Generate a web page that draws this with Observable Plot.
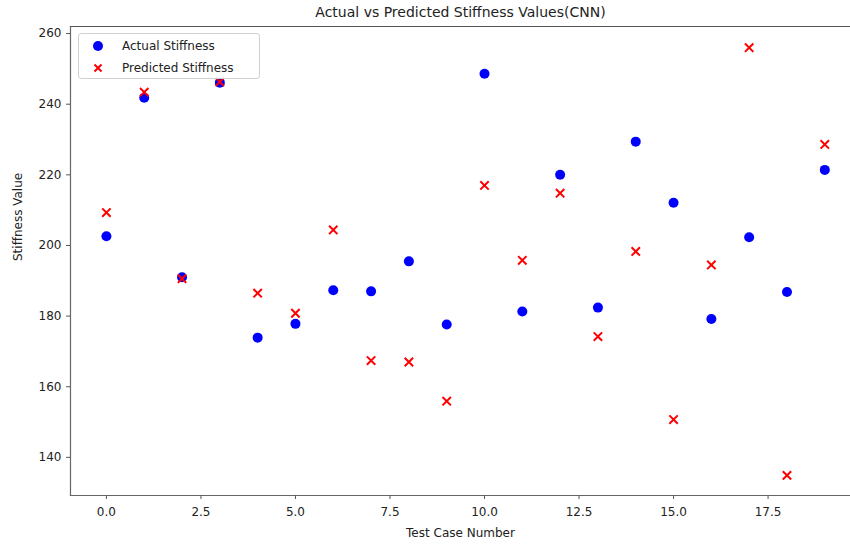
<!DOCTYPE html>
<html><head><meta charset="utf-8">
<script src="https://cdn.jsdelivr.net/npm/d3@7"></script>
<script src="https://cdn.jsdelivr.net/npm/@observablehq/plot@0.6"></script>
<style>
body{margin:0;background:#fff;}
#wrap{position:relative;width:850px;height:544px;font-family:"DejaVu Sans",sans-serif;}
.legend{position:absolute;left:78px;top:33px;width:182px;height:46px;border:1px solid #d0d0d0;border-radius:3px;background:rgba(255,255,255,0.8);box-sizing:border-box;font-size:12px;color:#222;}
.legend .row{position:absolute;left:0;height:16px;line-height:16px;white-space:nowrap;}
.legend svg{position:absolute;left:11px;top:0;}
.legend span{position:absolute;left:43px;top:0;}
</style>
</head><body>
<div id="wrap"></div>
<script>
const testCase = [0,1,2,3,4,5,6,7,8,9,10,11,12,13,14,15,16,17,18,19];
const actual = [202.6,241.8,191.0,246.1,173.9,177.8,187.3,187.0,195.5,177.6,248.6,181.3,220.0,182.4,229.4,212.1,179.2,202.3,186.8,221.4];
const predicted = [209.3,243.4,190.6,246.3,186.5,180.8,204.4,167.4,167.0,155.9,217.0,195.8,214.8,174.2,198.3,150.7,194.5,256.0,134.9,228.6];
const xTicks = [0,2.5,5,7.5,10,12.5,15,17.5];
const yTicks = [140,160,180,200,220,240,260];
const title = "Actual vs Predicted Stiffness Values(CNN)";
const xLabel = "Test Case Number";
const yLabel = "Stiffness Value";
const seriesNames = ["Actual Stiffness","Predicted Stiffness"];

const rows = testCase.map((c,i)=>({c, actual:actual[i], predicted:predicted[i]}));

const chart = Plot.plot({
  width:850, height:544,
  marginLeft:70, marginRight:0, marginTop:26, marginBottom:49,
  style:{fontFamily:"DejaVu Sans", fontSize:"12px", color:"#222", background:"white", overflow:"visible"},
  x:{domain:[-0.95,19.68]},
  y:{domain:[129.2,262]},
  marks:[
    Plot.frame({anchor:"left", stroke:"#666", strokeWidth:1.2}),
    Plot.frame({anchor:"bottom", stroke:"#666", strokeWidth:1.2}),
    Plot.frame({anchor:"top", stroke:"#555", strokeWidth:1.2}),
    Plot.axisX({ticks:xTicks, tickSize:4, tickPadding:8, tickFormat:d3.format(".1f"), label:null, stroke:"#555", fontSize:12}),
    Plot.axisY({ticks:yTicks, tickSize:4, tickPadding:5, label:null, stroke:"#555", fontSize:12}),
    Plot.dot(rows, {x:"c", y:"actual", r:5, fill:"blue"}),
    Plot.dot(rows, {x:"c", y:"predicted", symbol:"times", r:3.9, stroke:"red", strokeWidth:2}),
    Plot.text([title], {frameAnchor:"top", lineAnchor:"middle", dy:-14, fontSize:14, fill:"#222"}),
    Plot.text([xLabel], {frameAnchor:"bottom", lineAnchor:"middle", dy:38, fontSize:12, fill:"#222"}),
    Plot.text([yLabel], {frameAnchor:"left", dx:-52, rotate:-90, fontSize:12, fill:"#222"})
  ]
});
const wrap = document.getElementById("wrap");
wrap.appendChild(chart);

const legend = document.createElement("div");
legend.className = "legend";
const sym = [
  '<svg width="16" height="16"><circle cx="8" cy="8" r="5" fill="blue"/></svg>',
  '<svg width="16" height="16"><path d="M4.5,4.5L11.5,11.5M11.5,4.5L4.5,11.5" stroke="red" stroke-width="2"/></svg>'
];
seriesNames.forEach((n,i)=>{
  const r = document.createElement("div");
  r.className = "row";
  r.style.top = (4 + i*22) + "px";
  r.innerHTML = sym[i] + "<span></span>";
  r.querySelector("span").textContent = n;
  legend.appendChild(r);
});
wrap.appendChild(legend);
</script>
</body></html>
